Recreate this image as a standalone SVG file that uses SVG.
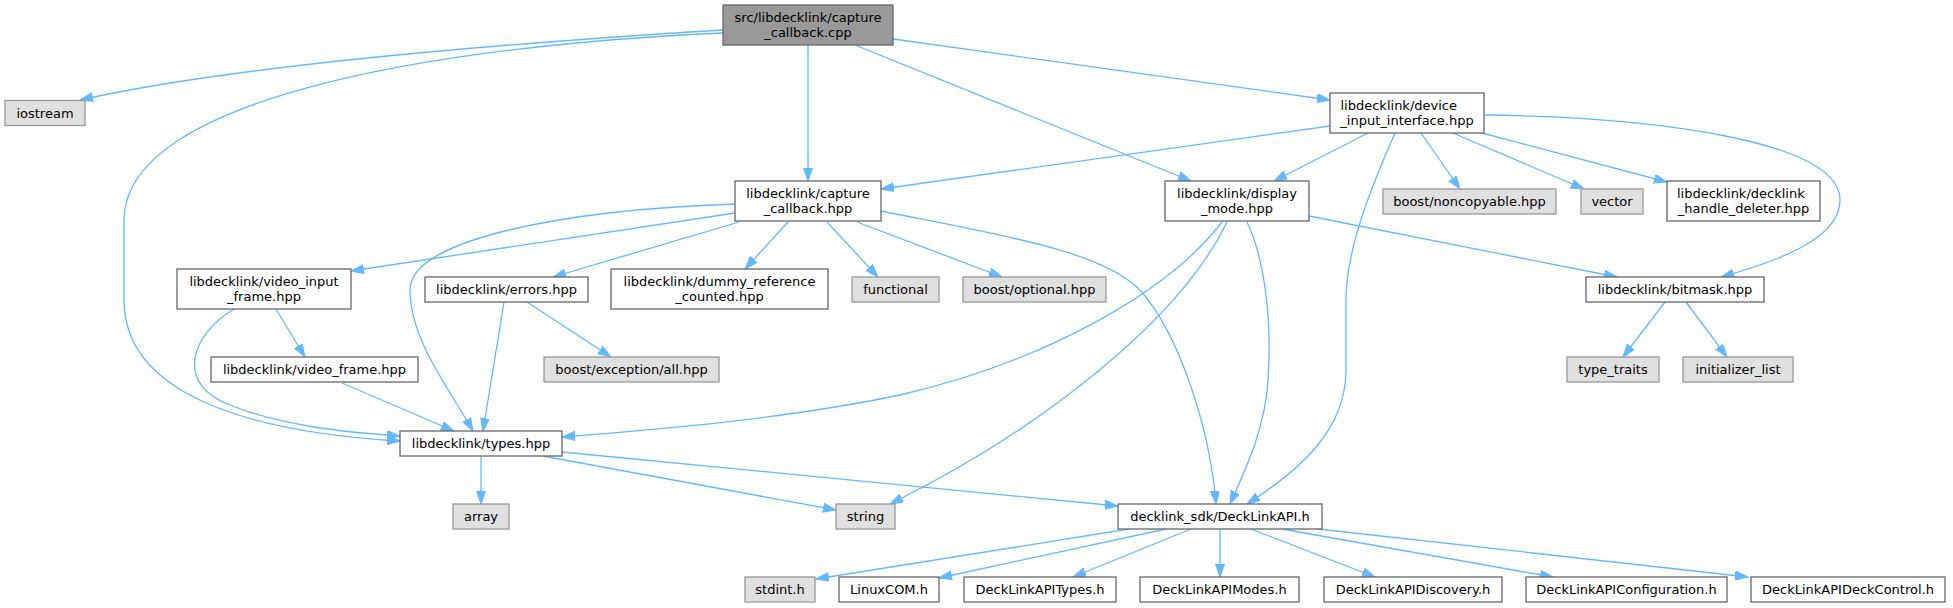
<svg xmlns="http://www.w3.org/2000/svg" width="1953" height="608" viewBox="0 0 1953 608">
<style>
.n rect{fill:#ffffff;stroke:#666666;stroke-width:1.3}
.g rect{fill:#e0e0e0;stroke:#999999;stroke-width:1.3}
.r rect{fill:#999999;stroke:#666666;stroke-width:1.3}
text{font-family:"DejaVu Sans","Liberation Sans",sans-serif;font-size:13px;fill:#000000;text-anchor:middle}
text.s{text-anchor:start}
#edges path{fill:none;stroke:#63B8FF;stroke-width:1.3;marker-end:url(#ah)}
</style>
<defs>
<marker id="ah" markerUnits="userSpaceOnUse" markerWidth="14" markerHeight="10" refX="13" refY="4.5" orient="auto">
<path d="M0,0 L13,4.5 L0,9 z" fill="#63B8FF" stroke="#63B8FF" stroke-width="1"/>
</marker>
</defs>
<rect width="1953" height="608" fill="#ffffff"/>
<g id="edges">
<path d="M723,30 C560,40 250,62 80,100"/>
<path d="M723,33 C450,45 124,95 124,220 L124,300 C124,395 250,432 400,441"/>
<path d="M808,45 L808,181"/>
<path d="M855,45 L1191,181"/>
<path d="M893,39 L1330,100"/>
<path d="M1330,126 L881,189"/>
<path d="M1368,133 L1274,181"/>
<path d="M1395,133 C1370,190 1346,250 1346,300 L1346,370 C1346,430 1300,470 1247,504"/>
<path d="M1421,133 L1460,189"/>
<path d="M1453,133 L1584,189"/>
<path d="M1482,133 L1667,182"/>
<path d="M1484,115 C1650,117 1840,140 1840,200 C1840,235 1790,258 1721,277"/>
<path d="M735,213 L351,271"/>
<path d="M739,222 L553,277"/>
<path d="M788,222 L745,269"/>
<path d="M827,222 L878,277"/>
<path d="M857,222 L1002,277"/>
<path d="M735,204 C560,210 410,240 410,290 C410,340 450,390 473,431"/>
<path d="M881,211 C1000,235 1100,250 1140,290 C1180,335 1210,430 1216,504"/>
<path d="M1222,222 C1170,290 1050,360 900,395 C780,420 650,430 562,437"/>
<path d="M1227,222 C1180,320 1040,430 890,504"/>
<path d="M1247,222 C1265,260 1272,320 1268,380 C1265,430 1245,470 1230,504"/>
<path d="M1309,216 L1617,277"/>
<path d="M234,309 C190,335 175,385 230,405 C280,425 340,432 400,436"/>
<path d="M276,309 L305,357"/>
<path d="M504,302 L483,431"/>
<path d="M527,302 L611,357"/>
<path d="M342,383 L454,431"/>
<path d="M481,456 L481,504"/>
<path d="M543,456 L836,510"/>
<path d="M562,452 L1118,506"/>
<path d="M1665,302 L1623,357"/>
<path d="M1686,302 L1727,357"/>
<path d="M1129,529 L816,579"/>
<path d="M1166,529 L939,578"/>
<path d="M1191,529 L1073,577"/>
<path d="M1220,529 L1220,577"/>
<path d="M1251,529 L1375,577"/>
<path d="M1282,529 L1553,577"/>
<path d="M1318,529 L1748,577"/>
</g>
<g id="n_cpp" class="r"><rect x="723" y="5" width="170" height="40"/><text x="808" y="21.5">src/libdecklink/capture</text><text x="808" y="36.5">_callback.cpp</text></g>
<g id="n_iostream" class="g"><rect x="5" y="100.5" width="80" height="25"/><text x="45" y="117.5">iostream</text></g>
<g id="n_device" class="n"><rect x="1330" y="93" width="154" height="40"/><text class="s" x="1340.5" y="109.5">libdecklink/device</text><text x="1407" y="124.5">_input_interface.hpp</text></g>
<g id="n_cchpp" class="n"><rect x="735" y="181" width="146" height="40"/><text x="808" y="197.5">libdecklink/capture</text><text x="808" y="212.5">_callback.hpp</text></g>
<g id="n_display" class="n"><rect x="1165" y="181" width="144" height="40"/><text x="1237" y="197.5">libdecklink/display</text><text x="1237" y="212.5">_mode.hpp</text></g>
<g id="n_noncopyable" class="g"><rect x="1383" y="189" width="173" height="25"/><text x="1469.5" y="206">boost/noncopyable.hpp</text></g>
<g id="n_vector" class="g"><rect x="1581" y="189" width="62" height="25"/><text x="1612" y="206">vector</text></g>
<g id="n_deleter" class="n"><rect x="1667" y="181" width="153" height="40"/><text class="s" x="1677" y="197.5">libdecklink/decklink</text><text x="1743.5" y="212.5">_handle_deleter.hpp</text></g>
<g id="n_vif" class="n"><rect x="177" y="269" width="174" height="40"/><text x="264" y="285.5">libdecklink/video_input</text><text x="264" y="300.5">_frame.hpp</text></g>
<g id="n_errors" class="n"><rect x="425" y="277" width="163" height="25"/><text x="506.5" y="294">libdecklink/errors.hpp</text></g>
<g id="n_dummy" class="n"><rect x="611" y="269" width="217" height="40"/><text x="719.5" y="285.5">libdecklink/dummy_reference</text><text x="719.5" y="300.5">_counted.hpp</text></g>
<g id="n_functional" class="g"><rect x="852" y="277" width="87" height="25"/><text x="895.5" y="294">functional</text></g>
<g id="n_optional" class="g"><rect x="963" y="277" width="143" height="25"/><text x="1034.5" y="294">boost/optional.hpp</text></g>
<g id="n_bitmask" class="n"><rect x="1586" y="277" width="178" height="25"/><text x="1675" y="294">libdecklink/bitmask.hpp</text></g>
<g id="n_videoframe" class="n"><rect x="211" y="357" width="207" height="25"/><text x="314.5" y="374">libdecklink/video_frame.hpp</text></g>
<g id="n_exception" class="g"><rect x="544" y="357" width="175" height="25"/><text x="631.5" y="374">boost/exception/all.hpp</text></g>
<g id="n_typetraits" class="g"><rect x="1567" y="357" width="92" height="25"/><text x="1613" y="374">type_traits</text></g>
<g id="n_initlist" class="g"><rect x="1683" y="357" width="110" height="25"/><text x="1738" y="374">initializer_list</text></g>
<g id="n_types" class="n"><rect x="400" y="431" width="162" height="25"/><text x="481" y="448">libdecklink/types.hpp</text></g>
<g id="n_array" class="g"><rect x="453" y="504" width="56" height="25"/><text x="481" y="521">array</text></g>
<g id="n_string" class="g"><rect x="836" y="504" width="59" height="25"/><text x="865.5" y="521">string</text></g>
<g id="n_api" class="n"><rect x="1118" y="504" width="204" height="25"/><text x="1220" y="521">decklink_sdk/DeckLinkAPI.h</text></g>
<g id="n_stdint" class="g"><rect x="745" y="577" width="70" height="25"/><text x="780" y="594">stdint.h</text></g>
<g id="n_linuxcom" class="n"><rect x="839" y="577" width="100" height="25"/><text x="889" y="594">LinuxCOM.h</text></g>
<g id="n_apitypes" class="n"><rect x="964" y="577" width="152" height="25"/><text x="1040" y="594">DeckLinkAPITypes.h</text></g>
<g id="n_apimodes" class="n"><rect x="1140" y="577" width="159" height="25"/><text x="1219.5" y="594">DeckLinkAPIModes.h</text></g>
<g id="n_apidisc" class="n"><rect x="1324" y="577" width="178" height="25"/><text x="1413" y="594">DeckLinkAPIDiscovery.h</text></g>
<g id="n_apiconf" class="n"><rect x="1526" y="577" width="201" height="25"/><text x="1626.5" y="594">DeckLinkAPIConfiguration.h</text></g>
<g id="n_apideck" class="n"><rect x="1751" y="577" width="194" height="25"/><text x="1848" y="594">DeckLinkAPIDeckControl.h</text></g>
</svg>
